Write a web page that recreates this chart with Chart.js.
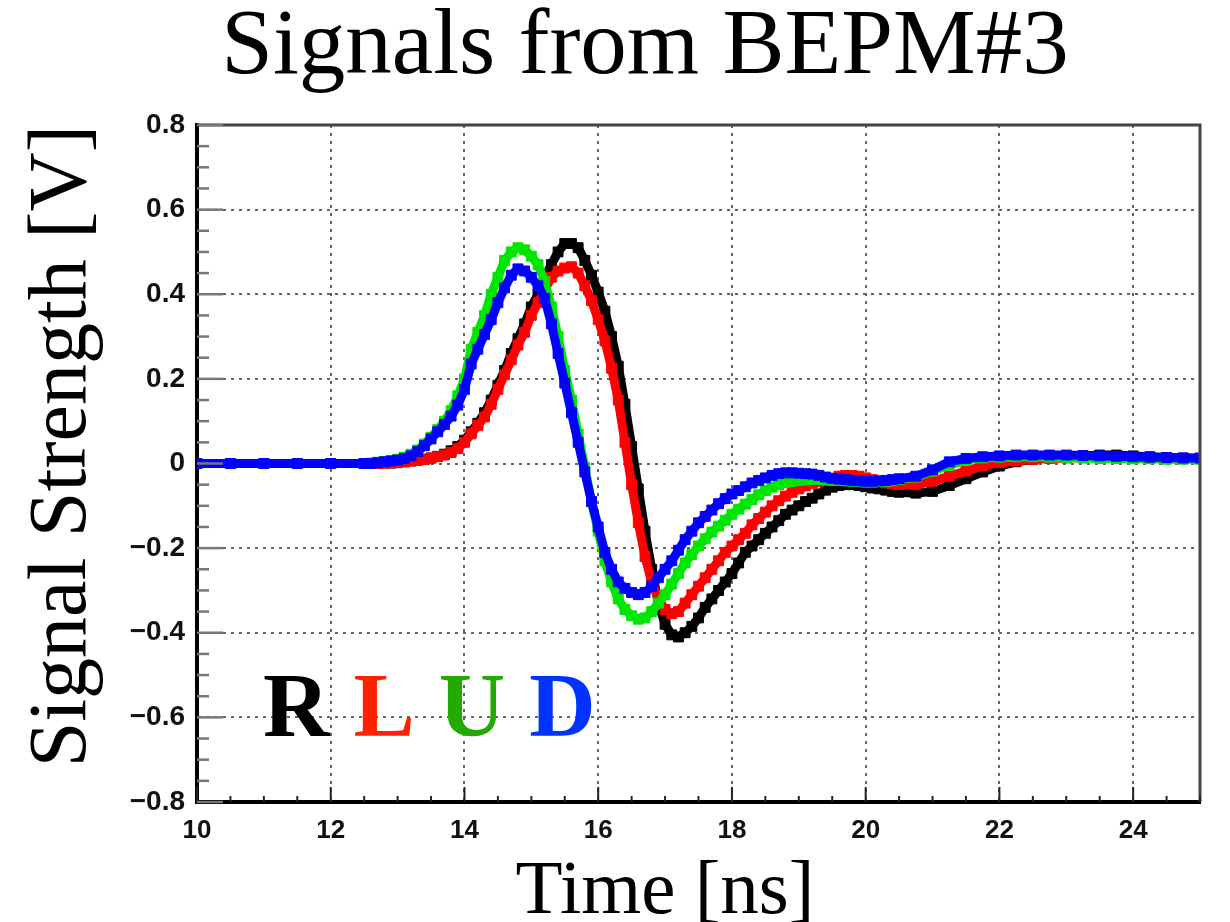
<!DOCTYPE html>
<html>
<head>
<meta charset="utf-8">
<title>Signals from BEPM#3</title>
<script src="https://cdn.jsdelivr.net/npm/chart.js@4.4.1/dist/chart.umd.min.js"></script>
<style>
  html, body { margin: 0; padding: 0; background: #fff; }
  #wrap { width: 1230px; height: 922px; }
</style>
</head>
<body>
<div id="wrap"><canvas id="bepm" width="1230" height="922"></canvas></div>
<script>
// sample times [ns]
const T = [
  10, 10.5, 11, 11.5, 12,
  12.5, 12.6, 12.7, 12.8, 12.9,
  13.0, 13.1, 13.2, 13.3, 13.4, 13.5, 13.6, 13.7, 13.8, 13.9,
  14.0, 14.1, 14.2, 14.3, 14.4, 14.5, 14.6, 14.7, 14.8, 14.9,
  15.0, 15.1, 15.2, 15.3, 15.4, 15.5, 15.6, 15.7, 15.8, 15.9,
  16.0, 16.1, 16.2, 16.3, 16.4, 16.5, 16.6, 16.7, 16.8, 16.9,
  17.0, 17.1, 17.2, 17.3, 17.4, 17.5, 17.6, 17.7, 17.8, 17.9,
  18.0, 18.1, 18.2, 18.3, 18.4, 18.5, 18.6, 18.7, 18.8, 18.9,
  19.0, 19.1, 19.2, 19.3, 19.4, 19.5, 19.6, 19.7, 19.8, 19.9,
  20.0, 20.1, 20.2, 20.3, 20.4, 20.5,
  20.75, 21, 21.25, 21.5, 21.75, 22, 22.25, 22.5, 22.75, 23, 23.25, 23.5, 23.75, 24, 24.25, 24.5, 24.75, 25
];

// R (black)
const R = [
  0, 0, 0, 0, 0,
  0, 0, 0, 0.001, 0.001,
  0.002, 0.004, 0.006, 0.008, 0.01, 0.013, 0.017, 0.022, 0.03, 0.04,
  0.055, 0.075, 0.095, 0.12, 0.15, 0.185, 0.22, 0.26, 0.295, 0.33,
  0.37, 0.4, 0.44, 0.47, 0.5, 0.52, 0.52, 0.51, 0.48, 0.445,
  0.405, 0.36, 0.3, 0.23, 0.14, 0.04, -0.06, -0.16, -0.25, -0.33,
  -0.38, -0.405, -0.41, -0.4, -0.385, -0.365, -0.34, -0.32, -0.3, -0.28,
  -0.26, -0.235, -0.21, -0.195, -0.18, -0.165, -0.15, -0.135, -0.12, -0.11,
  -0.1, -0.09, -0.082, -0.072, -0.063, -0.056, -0.052, -0.05, -0.05, -0.052,
  -0.055, -0.058, -0.06, -0.063, -0.066, -0.068,
  -0.07, -0.066, -0.052, -0.036, -0.02, -0.006, 0.004, 0.01, 0.014, 0.016, 0.018, 0.02, 0.02, 0.018, 0.016, 0.014, 0.013, 0.012
];

// L (red)
const L = [
  0, 0, 0, 0, 0,
  0, 0, 0, 0.001, 0.001,
  0.002, 0.004, 0.006, 0.008, 0.01, 0.013, 0.016, 0.02, 0.026, 0.035,
  0.05, 0.07, 0.09, 0.11, 0.14, 0.175, 0.21, 0.245, 0.28, 0.31,
  0.35, 0.38, 0.41, 0.44, 0.455, 0.462, 0.465, 0.45, 0.42, 0.385,
  0.34, 0.29, 0.225, 0.15, 0.05, -0.05, -0.14, -0.22, -0.28, -0.32,
  -0.345, -0.355, -0.35, -0.33, -0.31, -0.29, -0.27, -0.25, -0.23, -0.21,
  -0.195, -0.18, -0.165, -0.145, -0.13, -0.115, -0.1, -0.088, -0.077, -0.068,
  -0.06, -0.053, -0.047, -0.042, -0.038, -0.035, -0.03, -0.028, -0.028, -0.03,
  -0.034, -0.038, -0.042, -0.046, -0.048, -0.05,
  -0.05, -0.042, -0.03, -0.018, -0.006, 0.002, 0.006, 0.01, 0.012, 0.013, 0.014, 0.014, 0.013, 0.013, 0.012, 0.012, 0.012, 0.012
];

// U (green)
const U = [
  0, 0, 0, 0, 0,
  0, 0.001, 0.003, 0.005, 0.007,
  0.01, 0.015, 0.022, 0.032, 0.046, 0.062, 0.08, 0.1, 0.125, 0.16,
  0.2, 0.27, 0.31, 0.35, 0.4, 0.44, 0.48, 0.5, 0.51, 0.505,
  0.49, 0.47, 0.43, 0.37, 0.3, 0.22, 0.15, 0.07, -0.01, -0.09,
  -0.16, -0.23, -0.28, -0.32, -0.345, -0.36, -0.368, -0.365, -0.35, -0.33,
  -0.31, -0.285, -0.26, -0.235, -0.215, -0.195, -0.178, -0.162, -0.148, -0.134,
  -0.12, -0.108, -0.096, -0.085, -0.074, -0.064, -0.056, -0.05, -0.045, -0.042,
  -0.04, -0.039, -0.038, -0.038, -0.039, -0.04, -0.04, -0.041, -0.042, -0.043,
  -0.044, -0.044, -0.043, -0.042, -0.04, -0.038,
  -0.032, -0.018, -0.004, 0.008, 0.013, 0.015, 0.016, 0.016, 0.015, 0.014, 0.013, 0.012, 0.012, 0.011, 0.011, 0.01, 0.01, 0.01
];

// D (blue)
const D = [
  0, 0, 0, 0, 0,
  0, 0, 0.002, 0.004, 0.006,
  0.008, 0.012, 0.018, 0.028, 0.042, 0.058, 0.075, 0.092, 0.112, 0.138,
  0.175, 0.235, 0.27, 0.305, 0.34, 0.38, 0.415, 0.445, 0.46, 0.455,
  0.44, 0.42, 0.39, 0.33, 0.26, 0.19, 0.12, 0.05, -0.02, -0.09,
  -0.15, -0.21, -0.25, -0.28, -0.295, -0.305, -0.31, -0.305, -0.29, -0.27,
  -0.25, -0.23, -0.205, -0.18, -0.16, -0.14, -0.125, -0.11, -0.095, -0.083,
  -0.072, -0.064, -0.055, -0.046, -0.04, -0.034, -0.028, -0.024, -0.022, -0.022,
  -0.023, -0.024, -0.025, -0.028, -0.032, -0.035, -0.037, -0.038, -0.04, -0.041,
  -0.042, -0.042, -0.041, -0.04, -0.038, -0.036,
  -0.03, -0.015, 0.004, 0.012, 0.016, 0.018, 0.02, 0.02, 0.02, 0.02, 0.019, 0.018, 0.017, 0.016, 0.015, 0.014, 0.013, 0.013
];

const X_TICKS = [10, 12, 14, 16, 18, 20, 22, 24];
const X_TICK_LABELS = ['10', '12', '14', '16', '18', '20', '22', '24'];
const Y_TICKS = [-0.8, -0.6, -0.4, -0.2, 0, 0.2, 0.4, 0.6, 0.8];
const Y_TICK_LABELS = ['\u22120.8', '\u22120.6', '\u22120.4', '\u22120.2', '0', '0.2', '0.4', '0.6', '0.8'];

const CHANNELS = ['R', 'L', 'U', 'D'];
const MARK_COLORS = ['#000000', '#ff0000', '#00e600', '#0000ff'];
const TEXT_COLORS = ['#000000', '#ff2200', '#22aa00', '#0033ff'];

function series(label, vals, color, order) {
  return {
    label: label,
    data: T.map(function(t, i) { return {x: t, y: vals[i]}; }),
    borderColor: color,
    backgroundColor: color,
    showLine: true,
    borderWidth: 9,
    pointStyle: 'rect',
    pointRadius: 7,
    pointHoverRadius: 7,
    pointBorderWidth: 1,
    order: order
  };
}

// frame, minor ticks, channel letters and x title
const decor = {
  id: 'decor',
  afterDraw(chart) {
    const ctx = chart.ctx, a = chart.chartArea;
    const x = chart.scales.x, y = chart.scales.y;
    ctx.save();
    ctx.setLineDash([]);
    ctx.strokeStyle = '#444';
    ctx.lineWidth = 3;
    ctx.beginPath();
    ctx.moveTo(a.left, a.top);
    ctx.lineTo(a.right, a.top);
    ctx.lineTo(a.right, a.bottom);
    ctx.stroke();

    // x ticks (inward), every 0.5 ns, long at labelled ones
    ctx.strokeStyle = '#222';
    ctx.lineWidth = 2;
    for (let k = 0; k <= 30; k++) {
      const v = 10 + k * 0.5;
      const px = x.getPixelForValue(v);
      const len = (k % 4 === 0) ? 15 : 6;
      ctx.beginPath();
      ctx.moveTo(px, a.bottom);
      ctx.lineTo(px, a.bottom - len);
      ctx.stroke();
    }
    // y ticks (inward), every 0.05 V
    ctx.strokeStyle = '#777';
    ctx.lineWidth = 2.5;
    for (let k = 0; k <= 32; k++) {
      const v = -0.8 + k * 0.05;
      const py = y.getPixelForValue(v);
      const len = (k % 4 === 0) ? 26 : 12;
      ctx.beginPath();
      ctx.moveTo(a.left, py);
      ctx.lineTo(a.left + len, py);
      ctx.stroke();
    }

    // channel letters
    ctx.font = 'bold 92px "Liberation Serif"';
    ctx.textBaseline = 'alphabetic';
    ctx.textAlign = 'left';
    let lx = a.left + 66;
    CHANNELS.forEach(function(c, i) {
      ctx.fillStyle = TEXT_COLORS[i];
      ctx.fillText(c, lx, 736);
      lx += ctx.measureText(c).width + 24;
    });

    // x axis title
    ctx.font = '77px "Liberation Serif"';
    ctx.fillStyle = '#000';
    ctx.textAlign = 'center';
    ctx.fillText('Time [ns]', 665, 913);
    ctx.restore();
  }
};

new Chart(document.getElementById('bepm'), {
  type: 'scatter',
  data: {
    datasets: [
      series('R', R, MARK_COLORS[0], 4),
      series('L', L, MARK_COLORS[1], 3),
      series('U', U, MARK_COLORS[2], 2),
      series('D', D, MARK_COLORS[3], 1)
    ]
  },
  options: {
    responsive: false,
    animation: false,
    events: [],
    devicePixelRatio: 1,
    layout: { padding: {left: 90, right: 30, top: 0, bottom: 0} },
    plugins: {
      legend: { display: false },
      tooltip: { enabled: false },
      title: {
        display: true,
        text: 'Signals from BEPM#3',
        color: '#000',
        font: {family: '"Liberation Serif", "Times New Roman", serif', size: 93, weight: 'normal', lineHeight: 1},
        padding: {top: 2, bottom: 30}
      }
    },
    scales: {
      x: {
        type: 'linear',
        min: 10,
        max: 25,
        afterFit: function(s) { s.height = 120; },
        afterBuildTicks: function(s) { s.ticks = X_TICKS.map(function(v) { return {value: v}; }); },
        ticks: {
          padding: 13, color: '#111', maxRotation: 0, autoSkip: false,
          font: {family: '"Liberation Sans", Arial, sans-serif', weight: 'bold', size: 26},
          callback: function(v, i) { return X_TICK_LABELS[i]; }
        },
        grid: { color: '#666', lineWidth: 2, drawTicks: false, tickLength: 0 },
        border: { display: true, color: '#000', width: 4, dash: [3, 5] }
      },
      y: {
        type: 'linear',
        min: -0.8,
        max: 0.8,
        afterFit: function(s) { s.width = 107; },
        afterBuildTicks: function(s) { s.ticks = Y_TICKS.map(function(v) { return {value: v}; }); },
        ticks: {
          padding: 12, color: '#111', autoSkip: false,
          font: {family: '"Liberation Sans", Arial, sans-serif', weight: 'bold', size: 28},
          callback: function(v, i) { return Y_TICK_LABELS[i]; }
        },
        grid: { color: '#666', lineWidth: 2, drawTicks: false, tickLength: 0 },
        border: { display: true, color: '#000', width: 4, dash: [3, 5] },
        title: {
          display: true,
          text: 'Signal Strength [V]',
          align: 'end',
          color: '#000',
          font: {family: '"Liberation Serif", "Times New Roman", serif', size: 82, weight: 'normal', lineHeight: 0.1},
          padding: {top: -31, bottom: 0}
        }
      }
    }
  },
  plugins: [decor]
});
</script>
</body>
</html>
